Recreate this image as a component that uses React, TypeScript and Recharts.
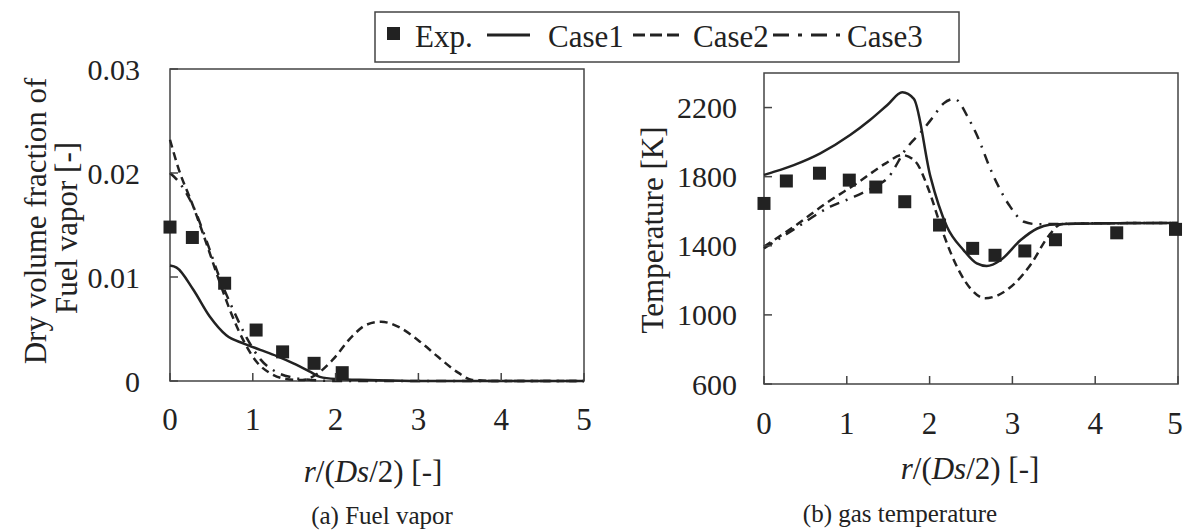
import { ComposedChart, Line, Scatter, XAxis, YAxis, ReferenceArea } from "recharts";

// (a) fuel vapor
const expR_a = [0, 0.27, 0.66, 1.04, 1.36, 1.74, 2.08];
const expV_a = [0.0148, 0.0138, 0.0094, 0.0049, 0.0028, 0.0017, 0.0008];
const c1R_a = [0, 0.08, 0.28, 0.48, 0.68, 0.89, 1.09, 1.29, 1.49, 1.69, 1.81, 2.0, 2.4, 3, 4, 5];
const c1V_a = [0.0111, 0.0109, 0.0088, 0.0062, 0.0044, 0.0036, 0.003, 0.0024, 0.0017, 0.0009, 0.0004, 0.0002, 0.0001, 0, 0, 0];
const c2R_a = [0, 0.1, 0.28, 0.45, 0.6, 0.75, 0.9, 1.05, 1.2, 1.4, 1.6, 1.78, 1.96, 2.2, 2.37, 2.55, 2.76, 3.0, 3.24, 3.48, 3.65, 4, 5];
const c2V_a = [0.0232, 0.0205, 0.0168, 0.013, 0.0095, 0.0063, 0.0037, 0.0018, 0.0008, 0.0002, 0.0001, 0.0007, 0.002, 0.0043, 0.0054, 0.0057, 0.0052, 0.0039, 0.0023, 0.0008, 0.0001, 0, 0];
const c3R_a = [0, 0.1, 0.28, 0.44, 0.6, 0.76, 0.93, 1.09, 1.3, 1.5, 1.7, 2, 5];
const c3V_a = [0.02, 0.0192, 0.0168, 0.0135, 0.0099, 0.0069, 0.0041, 0.0021, 0.0008, 0.0003, 0.0001, 0, 0];
const ticksY_a = [0, 0.01, 0.02, 0.03];

// (b) gas temperature
const expR_b = [0, 0.27, 0.67, 1.03, 1.35, 1.7, 2.12, 2.52, 2.79, 3.15, 3.52, 4.26, 4.97];
const expT_b = [1645, 1775, 1820, 1780, 1740, 1655, 1520, 1385, 1345, 1370, 1435, 1475, 1495];
const c1R_b = [0, 0.1, 0.36, 0.68, 1.04, 1.28, 1.49, 1.67, 1.81, 2.01, 2.21, 2.41, 2.57, 2.69, 2.86, 3.1, 3.3, 3.45, 3.7, 4.2, 5];
const c1T_b = [1810, 1825, 1867, 1935, 2041, 2128, 2215, 2288, 2250, 1800, 1510, 1375, 1298, 1283, 1318, 1433, 1500, 1522, 1528, 1530, 1532];
const c2R_b = [0, 0.36, 0.75, 1.15, 1.47, 1.67, 1.83, 1.99, 2.15, 2.35, 2.51, 2.67, 2.83, 3.03, 3.23, 3.43, 3.59, 4, 5];
const c2T_b = [1395, 1510, 1646, 1771, 1877, 1925, 1887, 1723, 1491, 1260, 1144, 1096, 1115, 1183, 1298, 1452, 1525, 1530, 1532];
const c3R_b = [0, 0.36, 0.8, 1.09, 1.35, 1.49, 1.72, 1.9, 2.03, 2.17, 2.3, 2.48, 2.58, 2.74, 2.96, 3.14, 3.3, 4, 5];
const c3T_b = [1385, 1495, 1626, 1684, 1745, 1790, 1964, 2060, 2138, 2224, 2250, 2128, 2031, 1838, 1636, 1539, 1525, 1530, 1532];
const ticksY_b = [600, 1000, 1400, 1800, 2200];

const ticksX = [0, 1, 2, 3, 4, 5];

const zip = (r: number[], v: number[]) => r.map((x, i) => ({ r: x, v: v[i] }));

const INK = "#222";
const FONT = "'Liberation Serif', 'Times New Roman', serif";

const Square = (p: any) => <rect x={p.cx - 6.5} y={p.cy - 6.5} width={13} height={13} fill={INK} />;

const xTick = (dy: number, maxX: number) => (p: any) => (
  <g>
    <line x1={p.x} x2={p.x} y1={p.y} y2={p.y - 8} stroke="#444" strokeWidth={1.5} />
    <text x={Math.min(p.x, maxX)} y={p.y + dy} textAnchor="middle" dominantBaseline="central" fontSize={31} fill={INK} fontFamily={FONT}>
      {p.payload.value}
    </text>
  </g>
);

const yTick = (gap: number) => (p: any) => (
  <g>
    <line x1={p.x} x2={p.x + 8} y1={p.y} y2={p.y} stroke="#444" strokeWidth={1.5} />
    <text x={p.x - gap} y={p.y} textAnchor="end" dominantBaseline="central" fontSize={30} fill={INK} fontFamily={FONT}>
      {p.payload.value}
    </text>
  </g>
);

function Panel({
  exp, c1, c2, c3, domain, ticks, margin, width, dy, gap,
}: any) {
  return (
    <ComposedChart width={width} height={532} margin={margin}>
      <XAxis dataKey="r" type="number" domain={[0, 5]} ticks={ticksX} axisLine={false} tickLine={false}
        tickSize={0} tickMargin={0} height={30} tick={xTick(dy, width - 9)} interval={0} />
      <YAxis dataKey="v" type="number" domain={domain} ticks={ticks} axisLine={false} tickLine={false}
        tickSize={0} tickMargin={0} width={60} tick={yTick(gap)} interval={0} />
      <ReferenceArea x1={0} x2={5} y1={domain[0]} y2={domain[1]} fill="none" stroke="#444" strokeWidth={1.5} />
      <Line data={c1} dataKey="v" type="monotone" stroke={INK} strokeWidth={2.5} dot={false} isAnimationActive={false} />
      <Line data={c2} dataKey="v" type="monotone" stroke={INK} strokeWidth={2.5} strokeDasharray="8 5" dot={false} isAnimationActive={false} />
      <Line data={c3} dataKey="v" type="monotone" stroke={INK} strokeWidth={2.5} strokeDasharray="10 7 2 7" dot={false} isAnimationActive={false} />
      <Scatter data={exp} dataKey="v" shape={Square} isAnimationActive={false} />
    </ComposedChart>
  );
}

const XTitle = ({ x, y }: { x: number; y: number }) => (
  <text x={x} y={y} textAnchor="middle" dominantBaseline="central" fontSize={31} fill={INK}>
    <tspan fontStyle="italic">r</tspan>/(<tspan fontStyle="italic">Ds</tspan>/2) [-]
  </text>
);

export default function App() {
  return (
    <div style={{ position: "absolute", left: 0, top: 0, width: 1184, height: 532, background: "#fff", fontFamily: FONT }}>
      <div style={{ position: "absolute", left: 0, top: 0 }}>
        <Panel exp={zip(expR_a, expV_a)} c1={zip(c1R_a, c1V_a)} c2={zip(c2R_a, c2V_a)} c3={zip(c3R_a, c3V_a)}
          domain={[0, 0.03]} ticks={ticksY_a} width={600} dy={38} gap={30}
          margin={{ top: 69, right: 16, bottom: 121, left: 110 }} />
      </div>
      <div style={{ position: "absolute", left: 600, top: 0 }}>
        <Panel exp={zip(expR_b, expT_b)} c1={zip(c1R_b, c1T_b)} c2={zip(c2R_b, c2T_b)} c3={zip(c3R_b, c3T_b)}
          domain={[600, 2400]} ticks={ticksY_b} width={584} dy={39} gap={27}
          margin={{ top: 73, right: 6, bottom: 118, left: 104 }} />
      </div>
      <svg width={1184} height={532} style={{ position: "absolute", left: 0, top: 0, pointerEvents: "none" }} fontFamily={FONT}>
        <text transform="rotate(-90 35 221)" x={35} y={221} textAnchor="middle" dominantBaseline="central" fontSize={31} fill={INK}>
          Dry volume fraction of
        </text>
        <text transform="rotate(-90 66 228)" x={66} y={228} textAnchor="middle" dominantBaseline="central" fontSize={31} fill={INK}>
          Fuel vapor [-]
        </text>
        <text transform="rotate(-90 652 230)" x={652} y={230} textAnchor="middle" dominantBaseline="central" fontSize={31} fill={INK}>
          Temperature [K]
        </text>
        <XTitle x={373} y={471} />
        <XTitle x={970} y={468} />
        <text x={382} y={515} textAnchor="middle" dominantBaseline="central" fontSize={25} fill={INK}>(a) Fuel vapor</text>
        <text x={900} y={513} textAnchor="middle" dominantBaseline="central" fontSize={25} fill={INK}>(b) gas temperature</text>

        <rect x={375} y={12} width={584} height={50} fill="#fff" stroke="#444" strokeWidth={1.5} />
        <rect x={387} y={27} width={13} height={13} fill={INK} />
        <text x={415} y={47} fontSize={31} fill={INK}>Exp.</text>
        <line x1={487} x2={530} y1={35} y2={35} stroke={INK} strokeWidth={3} />
        <text x={548} y={47} fontSize={31} fill={INK}>Case1</text>
        <line x1={633} x2={683} y1={35} y2={35} stroke={INK} strokeWidth={3} strokeDasharray="12 5" />
        <text x={693} y={47} fontSize={31} fill={INK}>Case2</text>
        <line x1={773} x2={840} y1={35} y2={35} stroke={INK} strokeWidth={3} strokeDasharray="16 9 4 9" />
        <text x={847} y={47} fontSize={31} fill={INK}>Case3</text>
      </svg>
    </div>
  );
}
